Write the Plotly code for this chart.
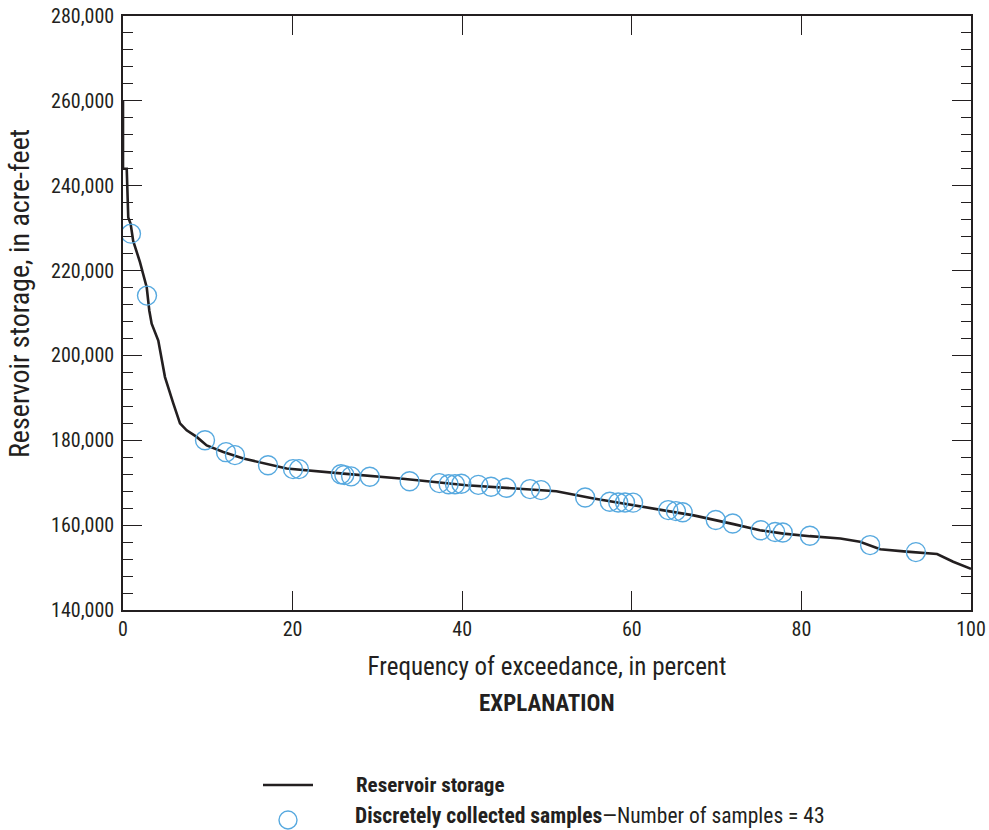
import plotly.graph_objects as go

# Reservoir storage duration curve (frequency of exceedance, percent -> acre-feet)
curve_pct = [0, 0, 0.44, 0.62, 0.9, 1.2, 2.0, 2.8, 3.1, 3.38, 4.16, 4.95, 5.93, 6.72, 7.51,
             8.69, 9.87, 11.83, 14.19, 16.95, 19.3, 26.0, 32.7, 40.5, 51.1, 55.5, 59.4,
             61.0, 64.3, 67.3, 70.0, 72.0, 75.1, 77.9, 81.0, 83.4, 84.6, 86.9, 88.1, 89.3,
             92.4, 96.0, 97.9, 99.9, 100]
curve_storage = [260000, 244000, 244000, 232500, 231000, 227000, 222000, 216000, 210600,
                 207500, 203500, 194900, 188700, 184000, 182350, 180800, 178800, 177250,
                 175700, 174500, 173350, 172150, 171000, 169400, 168000, 166300, 164900,
                 164500, 163300, 162300, 161200, 160240, 158800, 158000, 157400, 157100,
                 156870, 156100, 155200, 154300, 153750, 153200, 151370, 149900, 149700]

# Discretely collected samples
sample_pct = [0.94, 2.83, 9.67, 12.15, 13.2, 17.1, 20.05, 20.75, 25.7, 26.1, 26.9, 29.1,
              33.8, 37.3, 38.4, 39.15, 39.9, 41.9, 43.4, 45.2, 48.0, 49.3, 54.5, 57.4,
              58.4, 59.2, 60.15, 64.3, 65.2, 66.0, 69.9, 71.9, 75.2, 76.9, 77.8, 81.0,
              88.1, 93.5]
sample_storage = [228700, 214100, 180000, 177200, 176500, 174100, 173200, 173200, 172000,
                  171800, 171500, 171400, 170350, 169900, 169650, 169650, 169750, 169500,
                  169050, 168800, 168500, 168250, 166500, 165500, 165350, 165350, 165300,
                  163550, 163300, 163050, 161200, 160400, 158800, 158400, 158250, 157500,
                  155300, 153650]

x_ticks = [0, 20, 40, 60, 80, 100]
y_ticks = [140000, 160000, 180000, 200000, 220000, 240000, 260000, 280000]

INK = "#231f20"
BLUE = "#57a9df"
FONT = "Roboto Condensed, Liberation Sans Narrow, Arial Narrow, Roboto, sans-serif"

fig = go.Figure()
fig.add_trace(go.Scatter(x=curve_pct, y=curve_storage, mode="lines",
                         line=dict(color=INK, width=2.6), showlegend=False,
                         hoverinfo="skip"))
fig.add_trace(go.Scatter(x=sample_pct, y=sample_storage, mode="markers",
                         marker=dict(symbol="circle-open", size=19,
                                     line=dict(color=BLUE, width=1.4), color=BLUE),
                         showlegend=False))

W, H = 989, 830
L, T = 123, 16
R = W - 971
B = H - 610
pw, ph = W - L - R, H - T - B


def px(x):
    return (x - L) / pw


def py(y):
    return (H - B - y) / ph


fig.update_layout(
    width=W, height=H,
    margin=dict(l=L, r=R, t=T, b=B, autoexpand=False),
    paper_bgcolor="white", plot_bgcolor="white",
    font=dict(family=FONT, color=INK, size=20),
    xaxis=dict(range=[0, 100], tickvals=x_ticks, ticktext=[str(v) for v in x_ticks],
               ticks="inside", ticklen=19, tickwidth=1.2, tickcolor=INK,
               showline=True, linecolor=INK, linewidth=1.5, mirror="allticks",
               showgrid=False, zeroline=False, ticklabeloverflow="allow",
               tickfont=dict(size=20, family=FONT, color=INK),
               title=dict(text="Frequency of exceedance, in percent",
                          font=dict(size=25, family=FONT, color=INK), standoff=18)),
    yaxis=dict(range=[140000, 280000], tickvals=y_ticks,
               ticktext=[f"{v:,}" for v in y_ticks],
               ticks="inside", ticklen=19, tickwidth=1.2, tickcolor=INK,
               showline=True, linecolor=INK, linewidth=1.5, mirror="allticks",
               showgrid=False, zeroline=False, ticklabeloverflow="allow",
               ticklabelstandoff=3,
               minor=dict(dtick=4000, ticks="inside", ticklen=10, tickwidth=1.2,
                          tickcolor=INK, showgrid=False),
               tickfont=dict(size=20, family=FONT, color=INK)),
)

# Y-axis title placed as rotated text
fig.add_annotation(x=px(19), y=py(294), xref="paper", yref="paper", showarrow=False,
                   text="Reservoir storage, in acre-feet", textangle=-90,
                   font=dict(size=28, family=FONT, color=INK),
                   xanchor="center", yanchor="middle")

# Explanation (legend)
fig.add_annotation(x=px(547), y=py(703), xref="paper", yref="paper", showarrow=False,
                   text="<b>EXPLANATION</b>", font=dict(size=23, family=FONT, color=INK),
                   xanchor="center", yanchor="middle")
fig.add_shape(type="line", xref="paper", yref="paper", x0=px(263), x1=px(313),
              y0=py(785), y1=py(785), line=dict(color=INK, width=2.6))
fig.add_annotation(x=px(354), y=py(785), xref="paper", yref="paper", showarrow=False,
                   text="<b>Reservoir storage</b>", font=dict(size=21, family=FONT, color=INK),
                   xanchor="left", yanchor="middle")
fig.add_shape(type="circle", xref="paper", yref="paper", x0=px(279), x1=px(297),
              y0=py(811), y1=py(829), line=dict(color=BLUE, width=1.4))
fig.add_annotation(x=px(354), y=py(829), xref="paper", yref="paper", showarrow=False,
                   text="<b>Discretely collected samples</b>—Number of samples = 43",
                   font=dict(size=21.5, family=FONT, color=INK),
                   xanchor="left", yanchor="bottom", borderpad=0)

fig.write_html("out.html", config={"displayModeBar": False},
               post_script="document.body.style.margin='0';")
